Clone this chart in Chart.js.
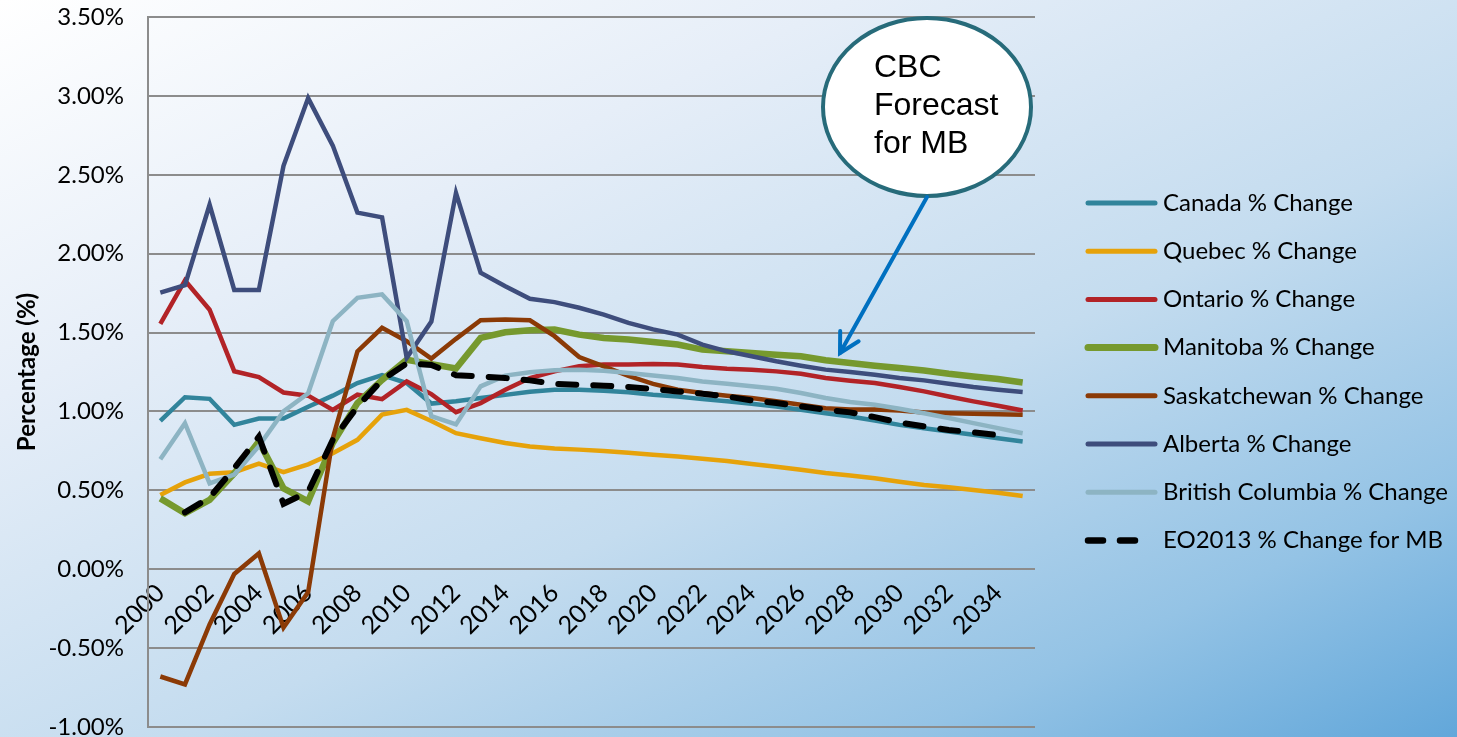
<!DOCTYPE html>
<html>
<head>
<meta charset="utf-8">
<script src="https://cdn.jsdelivr.net/npm/chart.js@4.4.0/dist/chart.umd.min.js"></script>
<style>
  html, body { margin: 0; padding: 0; }
  body {
    width: 1457px; height: 737px; overflow: hidden;
    background: linear-gradient(155deg, #ffffff 0%, #e6eef8 28%, #c4dcef 58%, #94c3e5 82%, #62a7da 100%);
  }
  canvas { display: block; }
</style>
</head>
<body>
<canvas id="chart" width="1457" height="737"></canvas>
<script>
const years = ["2000", "2001", "2002", "2003", "2004", "2005", "2006", "2007", "2008", "2009",
  "2010", "2011", "2012", "2013", "2014", "2015", "2016", "2017", "2018", "2019",
  "2020", "2021", "2022", "2023", "2024", "2025", "2026", "2027", "2028", "2029",
  "2030", "2031", "2032", "2033", "2034", "2035"];

const canada = [0.94, 1.09, 1.08, 0.915, 0.955, 0.955, 1.03, 1.10, 1.18, 1.23,
  1.18, 1.05, 1.065, 1.085, 1.105, 1.125, 1.138, 1.138, 1.131, 1.121,
  1.106, 1.095, 1.078, 1.064, 1.049, 1.032, 1.011, 0.989, 0.968, 0.943,
  0.915, 0.894, 0.873, 0.852, 0.83, 0.809];

const quebec = [0.47, 0.55, 0.605, 0.615, 0.67, 0.615, 0.665, 0.735, 0.82, 0.98,
  1.01, 0.94, 0.862, 0.83, 0.80, 0.778, 0.765, 0.758, 0.75, 0.738,
  0.725, 0.714, 0.70, 0.686, 0.667, 0.65, 0.63, 0.61, 0.594, 0.576,
  0.555, 0.534, 0.519, 0.502, 0.485, 0.464];

const ontario = [1.555, 1.83, 1.645, 1.255, 1.218, 1.12, 1.10, 1.01, 1.106, 1.078,
  1.19, 1.11, 0.995, 1.053, 1.138, 1.212, 1.254, 1.286, 1.297, 1.297,
  1.30, 1.297, 1.282, 1.271, 1.265, 1.254, 1.239, 1.212, 1.195, 1.18,
  1.155, 1.127, 1.095, 1.064, 1.036, 1.006];

const manitoba = [0.449, 0.354, 0.439, 0.608, 0.809, 0.513, 0.43, 0.80, 1.053, 1.20,
  1.328, 1.30, 1.272, 1.466, 1.502, 1.515, 1.519, 1.487, 1.466, 1.456,
  1.44, 1.424, 1.392, 1.381, 1.371, 1.36, 1.35, 1.324, 1.307, 1.29,
  1.275, 1.26, 1.239, 1.222, 1.206, 1.184];

const saskatchewan = [-0.68, -0.73, -0.35, -0.03, 0.10, -0.37, -0.145, 0.83, 1.38, 1.53,
  1.445, 1.335, 1.46, 1.578, 1.583, 1.578, 1.477, 1.345, 1.286, 1.225,
  1.175, 1.138, 1.117, 1.10, 1.085, 1.064, 1.042, 1.021, 1.012, 1.012,
  1.006, 0.994, 0.989, 0.985, 0.983, 0.979];

const alberta = [1.753, 1.80, 2.31, 1.77, 1.77, 2.557, 2.986, 2.685, 2.26, 2.23,
  1.34, 1.57, 2.385, 1.879, 1.794, 1.714, 1.693, 1.657, 1.614, 1.561,
  1.52, 1.487, 1.424, 1.381, 1.35, 1.318, 1.29, 1.265, 1.25, 1.233,
  1.212, 1.197, 1.176, 1.155, 1.138, 1.123];

const britishColumbia = [0.697, 0.926, 0.544, 0.60, 0.78, 1.0, 1.115, 1.572, 1.72, 1.742,
  1.572, 0.97, 0.918, 1.159, 1.227, 1.248, 1.261, 1.265, 1.258, 1.244,
  1.228, 1.212, 1.19, 1.176, 1.159, 1.144, 1.117, 1.085, 1.06, 1.042,
  1.017, 0.989, 0.958, 0.926, 0.894, 0.862];

const eo2013 = [null, 0.36, 0.455, 0.64, 0.84, 0.415, 0.49, 0.82, 1.03, 1.20,
  1.305, 1.295, 1.23, 1.222, 1.212, 1.197, 1.174, 1.169, 1.163, 1.155,
  1.142, 1.127, 1.112, 1.095, 1.07, 1.053, 1.032, 1.011, 0.994, 0.964,
  0.93, 0.905, 0.883, 0.867, 0.85, null];

const yTicks = [-1.0, -0.5, 0.0, 0.5, 1.0, 1.5, 2.0, 2.5, 3.0, 3.5];

const FONT = "Lato";

// one line series
function series(label, data, color, width, order) {
  return {
    label,
    data,
    borderColor: color,
    backgroundColor: color,
    borderWidth: width,
    pointRadius: 0,
    pointHoverRadius: 0,
    tension: 0,
    fill: false,
    order,
  };
}

const datasets = [
  series("Canada % Change", canada, "#31849B", 4.5, 7),
  series("Quebec % Change", quebec, "#E6A20A", 4.5, 6),
  series("Ontario % Change", ontario, "#B22327", 4.5, 5),
  series("Manitoba % Change", manitoba, "#76992E", 6.5, 4),
  series("Saskatchewan % Change", saskatchewan, "#8B3A06", 4.5, 3),
  series("Alberta % Change", alberta, "#3E4D7C", 4.5, 2),
  series("British Columbia % Change", britishColumbia, "#8DB4C3", 4.5, 1),
  series("EO2013 % Change for MB", eo2013, "#000000", 6, 0),
];
datasets[7].borderDash = [18, 17];
datasets[7].borderCapStyle = "round";

// legend on the right, drawn from the datasets
const sideLegend = {
  id: "sideLegend",
  afterDraw(chart) {
    const ctx = chart.ctx;
    ctx.save();
    chart.data.datasets.forEach((ds, i) => {
      const y = 203 + i * 48.2;
      ctx.beginPath();
      ctx.strokeStyle = ds.borderColor;
      ctx.lineWidth = ds.borderWidth + 0.5;
      ctx.lineCap = "round";
      ctx.setLineDash(ds.borderDash ? [15, 17] : []);
      ctx.moveTo(1088, y);
      ctx.lineTo(ds.borderDash ? 1142 : 1155, y);
      ctx.stroke();
      ctx.setLineDash([]);
      ctx.fillStyle = "#000";
      ctx.font = "24px " + FONT;
      ctx.textBaseline = "middle";
      ctx.textAlign = "left";
      ctx.fillText(ds.label, 1163, y);
    });
    ctx.restore();
  },
};

// "CBC Forecast for MB" bubble with arrow
const callout = {
  id: "callout",
  afterDatasetsDraw(chart) {
    const ctx = chart.ctx;
    ctx.save();
    ctx.beginPath();
    ctx.ellipse(927, 107, 104, 89, 0, 0, Math.PI * 2);
    ctx.fillStyle = "#ffffff";
    ctx.fill();
    ctx.lineWidth = 4;
    ctx.strokeStyle = "#276B7A";
    ctx.stroke();

    ctx.fillStyle = "#000";
    ctx.font = "32px 'Liberation Sans', Arial, sans-serif";
    ctx.textAlign = "left";
    ctx.textBaseline = "alphabetic";
    ctx.fillText("CBC", 874, 77);
    ctx.fillText("Forecast", 874, 115);
    ctx.fillText("for MB", 874, 153);

    const x0 = 927, y0 = 197, x1 = 840, y1 = 353;
    ctx.strokeStyle = "#0070C0";
    ctx.lineWidth = 4;
    ctx.lineCap = "round";
    ctx.beginPath();
    ctx.moveTo(x0, y0);
    ctx.lineTo(x1, y1);
    ctx.stroke();
    const ang = Math.atan2(y0 - y1, x0 - x1);
    const len = 22;
    ctx.beginPath();
    ctx.moveTo(x1 + len * Math.cos(ang - 0.5), y1 + len * Math.sin(ang - 0.5));
    ctx.lineTo(x1, y1);
    ctx.lineTo(x1 + len * Math.cos(ang + 0.5), y1 + len * Math.sin(ang + 0.5));
    ctx.stroke();
    ctx.restore();
  },
};

new Chart(document.getElementById("chart"), {
  type: "line",
  data: { labels: years, datasets },
  options: {
    responsive: false,
    animation: false,
    events: [],
    layout: { padding: { top: 17, right: 422, bottom: 10, left: 0 } },
    plugins: {
      legend: { display: false },
      tooltip: { enabled: false },
    },
    scales: {
      x: {
        type: "category",
        position: { y: 0 },
        offset: true,
        grid: { display: false, drawTicks: false },
        border: { display: false },
        ticks: {
          autoSkip: false,
          maxRotation: 45,
          minRotation: 45,
          padding: 9,
          color: "#000",
          font: { family: FONT, size: 25 },
          callback: function (val, idx) {
            return idx % 2 === 0 ? this.getLabelForValue(val) : "";
          },
        },
      },
      y: {
        min: yTicks[0],
        max: yTicks[yTicks.length - 1],
        afterFit(scale) {
          scale.width = 148;
          scale.paddingTop = 0;
          scale.paddingBottom = 0;
        },
        afterBuildTicks(scale) {
          scale.ticks = yTicks.map((v) => ({ value: v }));
        },
        grid: { color: "#8C8C8C", lineWidth: 2, drawTicks: false },
        border: { display: true, color: "#8C8C8C", width: 2 },
        ticks: {
          padding: 24,
          color: "#000",
          font: { family: FONT, size: 24 },
          callback: (v) => v.toFixed(2) + "%",
        },
        title: {
          display: true,
          text: "Percentage (%)",
          color: "#000",
          font: { family: FONT, size: 24, weight: "bold" },
          padding: { top: 13, bottom: 0 },
        },
      },
    },
  },
  plugins: [callout, sideLegend],
});
</script>
</body>
</html>
